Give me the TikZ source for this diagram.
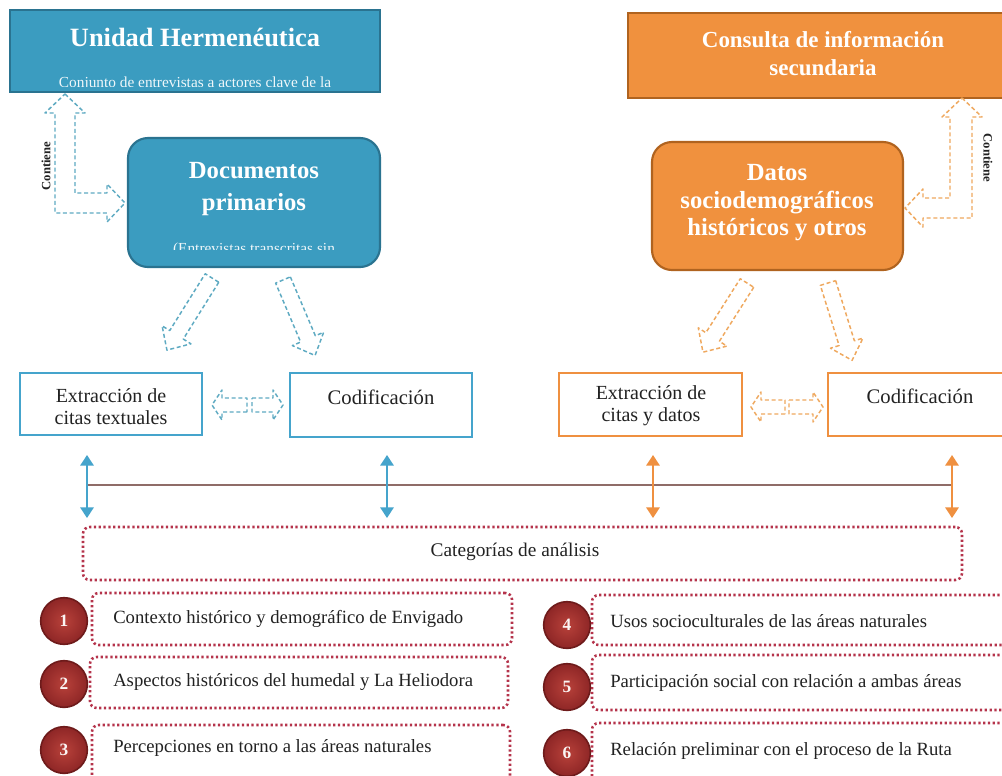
\documentclass[tikz,border=0pt]{standalone}
\usepackage{fontspec}
\setmainfont{Liberation Serif}
\usetikzlibrary{arrows.meta,calc,fit}

\definecolor{tealfill}{HTML}{3B9CC0}
\definecolor{tealedge}{HTML}{2A7390}
\definecolor{orgfill}{HTML}{F0913E}
\definecolor{orgedge}{HTML}{B0631F}
\definecolor{blueline}{HTML}{45A4CC}
\definecolor{orgline}{HTML}{EF9040}
\definecolor{bluedash}{HTML}{5EAAC2}
\definecolor{orgdash}{HTML}{EFA85E}
\definecolor{dotred}{HTML}{B5334B}
\definecolor{ballin}{HTML}{B8413A}
\definecolor{ballout}{HTML}{8E2626}
\definecolor{balledge}{HTML}{6E1B1B}
\definecolor{linkline}{HTML}{8F6C68}
\definecolor{txt}{HTML}{222222}

% hollow block arrow: style, start, angle, length, shaft half width, head half width, head length
\newcommand{\hollowarrow}[7]{%
  \begin{scope}[shift={(#2)},rotate=#3]
    \draw[#1] (0,-#5) -- (#4-#7,-#5) -- (#4-#7,-#6) -- (#4,0) -- (#4-#7,#6)
      -- (#4-#7,#5) -- (0,#5) -- cycle;
  \end{scope}}

\tikzset{
  x=0.75pt, y=-0.75pt,
  bigbox/.style={inner sep=0pt, line width=1.6pt},
  bluebox/.style={bigbox, fill=tealfill, draw=tealedge},
  orangebox/.style={bigbox, fill=orgfill, draw=orgedge},
  titletext/.style={text=white, font=\bfseries\fontsize{18.5}{24.5}\selectfont, align=center, inner sep=0pt},
  subtext/.style={text=white!92!tealfill, font=\fontsize{11.5}{13}\selectfont, inner sep=0pt, anchor=base},
  stepbox/.style={inner sep=0pt, fill=white, line width=1.6pt},
  steptext/.style={text=txt, font=\fontsize{15}{16.5}\selectfont, align=center, inner sep=0pt},
  bluehollow/.style={draw=bluedash, dash pattern=on 3pt off 2pt, line width=1.1pt, line join=round},
  orghollow/.style={draw=orgdash, dash pattern=on 3pt off 2pt, line width=1.1pt, line join=round},
  bluevert/.style={draw=blueline, line width=1.7pt, {Triangle[width=10pt,length=8pt]}-{Triangle[width=10pt,length=8pt]}},
  orgvert/.style={draw=orgline, line width=1.7pt, {Triangle[width=10pt,length=8pt]}-{Triangle[width=10pt,length=8pt]}},
  dotbox/.style={draw=dotred, line width=1.9pt, dash pattern=on 1.7pt off 1.9pt, rounded corners=5pt, inner sep=0pt},
  cattext/.style={text=txt, font=\fontsize{14}{16}\selectfont, inner sep=0pt, anchor=west},
  ball/.style={circle, minimum size=35pt, inner sep=0pt, shading=radial, inner color=ballin,
    outer color=ballout, draw=balledge, line width=1.2pt, text=white!95!ballin,
    font=\bfseries\fontsize{13}{14}\selectfont},
  contiene/.style={text=txt, font=\bfseries\fontsize{9.5}{10}\selectfont, inner sep=0pt}
}

\begin{document}
\begin{tikzpicture}
\useasboundingbox (0,0) rectangle (1002,775);
\fill[white] (0,0) rectangle (1002,775);

% ---------- primary sources (left) ----------
\node[bluebox, fit={(10,10)(380,92)}] (unidad) {};
\node[titletext, font=\bfseries\fontsize{19.8}{24}\selectfont] (unidadT) at (195,37) {Unidad Hermenéutica};
\begin{scope}
  \clip (12,60) rectangle (378,86);
  \node[subtext] (unidadS) at (195,87) {Conjunto de entrevistas a actores clave de la};
\end{scope}

\node[bluebox, rounded corners=15pt, fit={(128,138)(380,267)}] (docs) {};
\node[titletext] (docsT) at (254,189) {Documentos\\primarios};
\begin{scope}
  \clip (135,230) rectangle (375,249);
  \node[subtext] (docsS) at (254,253) {(Entrevistas transcritas sin};
\end{scope}

% "Contiene" L-shaped hollow arrow
\coordinate (cA) at (65,94);
\coordinate (cB) at (125,203);
\draw[bluehollow] (cA) -- (85,113) -- (75,113) -- (75,193) -- (107,193) -- (107,184)
  -- (cB) -- (107,222) -- (107,213) -- (55,213) -- (55,113) -- (45,113) -- cycle;
\node[contiene, rotate=90] (contL) at (46,166) {Contiene};

% ---------- secondary sources (right) ----------
\node[orangebox, fit={(628,13)(1018,98)}] (consulta) {};
\node[titletext, font=\bfseries\fontsize{17.2}{21}\selectfont] (consultaT) at (823,54) {Consulta de información\\secundaria};

\node[orangebox, rounded corners=15pt, fit={(652,142)(903,270)}] (datos) {};
\node[titletext, font=\bfseries\fontsize{18.5}{20.6}\selectfont] (datosT) at (777,203) {Datos\\sociodemográficos\\históricos y otros};

\coordinate (dA) at (962,98);
\coordinate (dB) at (905,208);
\draw[orghollow] (dA) -- (982,117) -- (972,117) -- (972,218) -- (923,218) -- (923,227)
  -- (dB) -- (923,189) -- (923,198) -- (950,198) -- (950,117) -- (942,117) -- cycle;
\node[contiene, rotate=-90] (contR) at (988,158) {Contiene};

% ---------- hollow arrows down to the steps ----------
\coordinate (b1) at (212,278);
\coordinate (b2) at (283,280);
\coordinate (o1) at (747,283);
\coordinate (o2) at (828,283);
\hollowarrow{bluehollow}{b1}{238}{85}{8}{17}{18}
\hollowarrow{bluehollow}{b2}{293}{82}{8}{17}{18}
\hollowarrow{orghollow}{o1}{237.5}{82}{8}{17}{18}
\hollowarrow{orghollow}{o2}{287.3}{81}{8}{17}{18}

% ---------- processing steps ----------
\node[stepbox, draw=blueline, fit={(20,373)(202,435)}] (ext1) {};
\node[steptext] at (111,407) {Extracción de\\citas textuales};
\node[stepbox, draw=blueline, fit={(290,373)(472,437)}] (cod1) {};
\node[steptext, font=\fontsize{15.5}{16.5}\selectfont] at (381,397) {Codificación};

\node[stepbox, draw=orgline, fit={(559,373)(742,436)}] (ext2) {};
\node[steptext] at (651,406) {Extracción de\\citas y datos};
\node[stepbox, draw=orgline, fit={(828,373)(1016,436)}] (cod2) {};
\node[steptext, font=\fontsize{15.5}{16.5}\selectfont] at (920,396) {Codificación};

% small back-to-back hollow arrows between steps
\coordinate (s1) at (247,405);
\coordinate (s2) at (252,405);
\coordinate (s3) at (785,407);
\coordinate (s4) at (789,407);
\hollowarrow{bluehollow}{s1}{180}{35}{7}{15}{10}
\hollowarrow{bluehollow}{s2}{0}{31}{7}{15}{10}
\hollowarrow{orghollow}{s3}{180}{34}{7}{15}{10}
\hollowarrow{orghollow}{s4}{0}{34}{7}{15}{10}

% ---------- links to the analysis categories ----------
\coordinate (h1) at (87,485);
\coordinate (h2) at (952,485);
\draw[linkline, line width=0.9pt] (h1) -- (h2);

\coordinate (v1a) at (87,455);  \coordinate (v1b) at (87,518);
\coordinate (v2a) at (387,455); \coordinate (v2b) at (387,518);
\coordinate (v3a) at (653,455); \coordinate (v3b) at (653,518);
\coordinate (v4a) at (952,455); \coordinate (v4b) at (952,518);
\draw[bluevert] (v1a) -- (v1b);
\draw[bluevert] (v2a) -- (v2b);
\draw[orgvert] (v3a) -- (v3b);
\draw[orgvert] (v4a) -- (v4b);

\node[dotbox, fit={(83,527)(962,580)}] (cat) {};
\node[text=txt, font=\fontsize{14.5}{16}\selectfont, inner sep=0pt] (catT) at (515,552) {Categorías de análisis};

% ---------- categories ----------
\node[dotbox, fit={(92,593)(512,645)}] (r1) {};
\node[dotbox, fit={(90,657)(508,708)}] (r2) {};
\node[dotbox, fit={(92,725)(510,784)}] (r3) {};
\node[dotbox, fit={(592,595)(1016,645)}] (r4) {};
\node[dotbox, fit={(592,655)(1016,710)}] (r5) {};
\node[dotbox, fit={(592,723)(1016,784)}] (r6) {};

\node[cattext] (t1) at (113,619) {Contexto histórico y demográfico de Envigado};
\node[cattext] (t2) at (113,682) {Aspectos históricos del humedal y La Heliodora};
\node[cattext] (t3) at (113,748) {Percepciones en torno a las áreas naturales};
\node[cattext] (t4) at (610,621) {Usos socioculturales de las áreas naturales};
\node[cattext] (t5) at (610,683) {Participación social con relación a ambas áreas};
\node[cattext] (t6) at (610,751) {Relación preliminar con el proceso de la Ruta};

\node[ball] (n1) at (64,621) {1};
\node[ball] (n2) at (64,684) {2};
\node[ball] (n3) at (64,750) {3};
\node[ball] (n4) at (567,625) {4};
\node[ball] (n5) at (567,687) {5};
\node[ball] (n6) at (567,753) {6};
\end{tikzpicture}
\end{document}
